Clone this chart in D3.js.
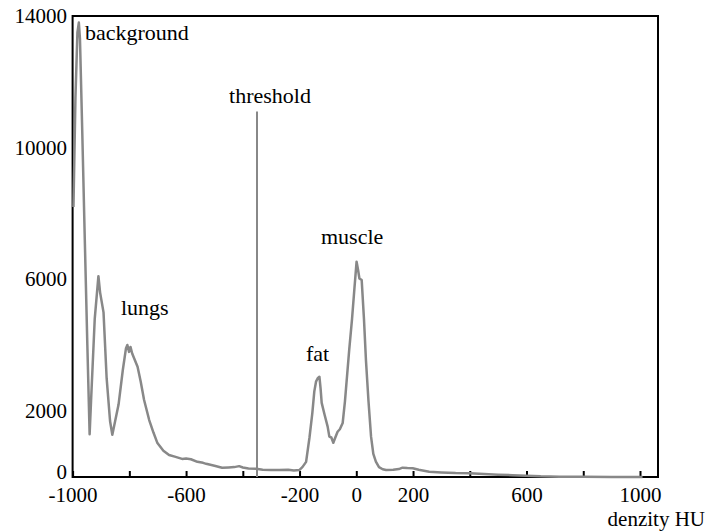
<!DOCTYPE html>
<html>
<head>
<meta charset="utf-8">
<script src="https://cdn.jsdelivr.net/npm/d3@7"></script>
<style>
  body { margin: 0; background: #fff; }
  svg text { font-family: "Liberation Serif", "Times New Roman", "DejaVu Serif", serif; font-size: 22px; fill: #000; }
  svg text.tk { font-size: 21px; }
</style>
</head>
<body>
<svg></svg>
<script>
const width = 707;
const height = 531;

// histogram: density (HU) and pixel count
const hu = [-997, -990, -983, -978, -974, -966, -957, -948, -940, -934, -922, -909, -903, -891, -880, -868, -860,
    -850, -838, -823, -812, -807, -801, -796, -790, -771, -760, -748, -730, -715, -701, -680, -660, -640, -614,
    -600, -583, -560, -540, -529, -500, -473, -450, -430, -413, -400, -380, -353, -330, -300, -272, -240, -220,
    -201, -190, -177, -165, -155, -148, -142, -136, -130, -126, -122, -112, -101, -95, -88, -81, -74, -66, -58,
    -48, -40, -25, -15, -7, 1, 6, 11, 19, 27, 34, 43, 52, 60, 69, 80, 93, 105, 130, 150, 163, 180, 199, 220,
    257, 300, 350, 399, 450, 500, 550, 599, 650, 716, 800, 900, 1009];
const counts = [8200, 11500, 13500, 13800, 13300, 10500, 7200, 4000, 1300, 2500, 4800, 6100, 5600, 5000, 3000, 1700, 1280,
    1700, 2200, 3250, 3900, 4010, 3800, 3950, 3750, 3350, 2900, 2340, 1730, 1350, 1030, 800, 670, 620, 550,
    560, 540, 460, 430, 400, 340, 280, 290, 300, 330, 290, 260, 250, 220, 210, 210, 220, 200,
    210, 300, 460, 1200, 1940, 2600, 2895, 3000, 3045, 2700, 2250, 1900, 1530, 1225, 1200, 1040, 1200, 1375, 1450,
    1640, 2300, 3860, 4800, 5680, 6540, 6300, 6030, 5980, 4800, 3550, 2300, 1225, 700, 465, 300, 234, 210, 220, 240, 283, 270, 264, 220,
    161, 140, 120, 112, 90, 70, 55, 40, 20, 10, 5, 3, 0];

const xTicks = [-1000, -800, -600, -400, -200, 0, 200, 400, 600, 800, 1000];
const xLabels = [-1000, -600, -200, 0, 200, 600, 1000];
const yLabels = [0, 2000, 6000, 10000, 14000];
const threshold = -350;
const thresholdTop = 11100;

const notes = [
    { text: "background", x: 85, y: 39.5 },
    { text: "lungs", x: 121, y: 315 },
    { text: "fat", x: 306, y: 361 },
    { text: "muscle", x: 321, y: 244 }
];

let svg = d3.select("svg").attr("width", width).attr("height", height);

const x = d3.scaleLinear().domain([-1000, 1000]).range([72.6, 640]);
const y = d3.scaleLinear().domain([0, 14000]).range([477, 16]);

// frame
svg.append("rect")
    .attr("x", 72.6).attr("y", 16)
    .attr("width", 658 - 72.6).attr("height", 477 - 16)
    .attr("fill", "none").attr("stroke", "#000").attr("stroke-width", 2);

// x axis, ticks pointing into the plot
let xAxis = svg.append("g")
    .attr("transform", "translate(0,477)")
    .call(d3.axisBottom(x)
        .tickValues(xTicks)
        .tickSizeInner(-6)
        .tickSizeOuter(0)
        .tickPadding(10)
        .tickFormat(d => xLabels.includes(d) ? d : ""));
xAxis.select(".domain").remove();
xAxis.selectAll(".tick line").attr("stroke", "#000").attr("stroke-width", 2);
xAxis.selectAll(".tick text").attr("class", "tk").attr("dy", "0.71em");

// y labels only
svg.append("g").selectAll("text")
    .data(yLabels)
    .join("text")
    .attr("class", "tk")
    .attr("x", 67)
    .attr("y", d => y(d) - (d === 0 ? 5 : 0))
    .attr("dy", "0.33em")
    .attr("text-anchor", "end")
    .text(d => d);

svg.append("text")
    .attr("class", "tk")
    .attr("x", 705).attr("y", 526)
    .attr("text-anchor", "end")
    .text("denzity HU");

// threshold
svg.append("line")
    .attr("x1", x(threshold)).attr("x2", x(threshold))
    .attr("y1", y(thresholdTop)).attr("y2", y(0))
    .attr("stroke", "#888").attr("stroke-width", 2);
svg.append("text")
    .attr("x", x(threshold) + 13).attr("y", 102.5)
    .attr("text-anchor", "middle")
    .text("threshold");

// histogram curve
let line = d3.line()
    .x((d, i) => x(hu[i]))
    .y(d => y(d));
svg.append("path")
    .attr("d", line(counts))
    .attr("fill", "none")
    .attr("stroke", "#888")
    .attr("stroke-width", 2.5)
    .attr("stroke-linejoin", "round");

svg.append("g").selectAll("text")
    .data(notes)
    .join("text")
    .attr("x", d => d.x)
    .attr("y", d => d.y)
    .text(d => d.text);
</script>
</body>
</html>
